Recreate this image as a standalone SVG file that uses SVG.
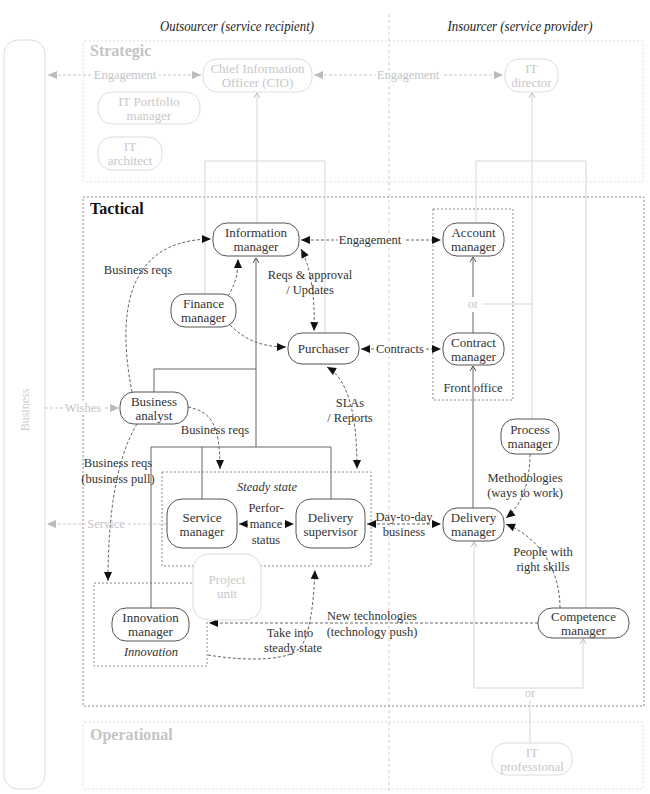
<svg xmlns="http://www.w3.org/2000/svg" width="650" height="794" viewBox="0 0 650 794" font-family="'Liberation Serif', 'Times New Roman', 'DejaVu Serif', serif">
<defs>
<marker id="ah" viewBox="-10 -5 11 10" refX="0" refY="0" markerWidth="11" markerHeight="10" markerUnits="userSpaceOnUse" orient="auto-start-reverse"><path d="M0,0 L-9,-4 L-9,4 z" fill="#111"/></marker>
<marker id="ahl" viewBox="-10 -5 11 10" refX="0" refY="0" markerWidth="11" markerHeight="10" markerUnits="userSpaceOnUse" orient="auto-start-reverse"><path d="M0,0 L-9,-4 L-9,4 z" fill="#bbb"/></marker>
<marker id="ch" viewBox="-6 -4 8 8" refX="0" refY="0" markerWidth="8" markerHeight="8" markerUnits="userSpaceOnUse" orient="auto"><path d="M-5,-3 L0,0 L-5,3" fill="none" stroke="#555" stroke-width="1"/></marker>
<marker id="chl" viewBox="-6 -4 8 8" refX="0" refY="0" markerWidth="8" markerHeight="8" markerUnits="userSpaceOnUse" orient="auto"><path d="M-5,-3 L0,0 L-5,3" fill="none" stroke="#bbb" stroke-width="1"/></marker>
</defs>
<style>
.n rect{fill:#fff;stroke:#555;stroke-width:1;}
.n text{font-size:13px;fill:#333;text-anchor:middle;}
.nl rect{fill:#fff;stroke:#ddd;stroke-width:1;}
.nl text{font-size:13px;fill:#c8c8c8;text-anchor:middle;}
.lbl{font-size:12.5px;fill:#333;text-anchor:middle;}
.lbll{font-size:12.5px;fill:#c4c4c4;text-anchor:middle;}
.halo{stroke:#fff;stroke-width:5px;paint-order:stroke;}
.d{fill:none;stroke:#666;stroke-width:1;stroke-dasharray:3,2;}
.dl{fill:none;stroke:#c8c8c8;stroke-width:1;stroke-dasharray:3,2;}
.t{fill:none;stroke:#666;stroke-width:1;}
.tl{fill:none;stroke:#d5d5d5;stroke-width:1;}
.box{fill:none;stroke:#888;stroke-width:1;stroke-dasharray:2,2;}
.boxl{fill:none;stroke:#ddd;stroke-width:1;stroke-dasharray:2,2;}
.hdr{font-size:15px;font-style:italic;fill:#222;text-anchor:middle;}
</style>
<rect width="650" height="794" fill="#fff"/>

<g id="frame">
<line x1="389" y1="14" x2="389" y2="794" stroke="#ccc" stroke-dasharray="3,3"/>
<text class="hdr" x="237" y="31" textLength="154" lengthAdjust="spacingAndGlyphs">Outsourcer (service recipient)</text>
<text class="hdr" x="520" y="31" textLength="145" lengthAdjust="spacingAndGlyphs">Insourcer (service provider)</text>
<rect x="4" y="40" width="41" height="749" rx="14" fill="none" stroke="#ddd"/>
<text x="0" y="0" transform="translate(29,410) rotate(-90)" font-size="12" fill="#ccc" text-anchor="middle">Business</text>
<rect class="boxl" x="83" y="41" width="560" height="141" rx="2"/>
<text x="90" y="56" font-size="16" font-weight="bold" fill="#c4c4c4">Strategic</text>
<rect class="box" x="83" y="197" width="561" height="509"/>
<text x="90" y="214" font-size="16" font-weight="bold" fill="#111">Tactical</text>
<rect class="boxl" x="83" y="722" width="560" height="67" rx="2"/>
<text x="90" y="740" font-size="16" font-weight="bold" fill="#c4c4c4">Operational</text>
<rect class="box" x="433" y="209" width="80" height="191"/>
<rect class="box" x="162" y="472" width="209" height="94"/>
<text x="267" y="491" font-size="12.5" font-style="italic" fill="#333" text-anchor="middle">Steady state</text>
<rect class="box" x="94" y="583" width="113" height="83"/>
<text x="151" y="656" font-size="12.5" font-style="italic" fill="#333" text-anchor="middle">Innovation</text>
</g>

<g id="connectors">
<path class="tl" d="M257 223 V93" marker-end="url(#chl)"/>
<path class="tl" d="M205 294 V161 H325 V333"/>
<path class="tl" d="M532 419 V93" marker-end="url(#chl)"/>
<path class="tl" d="M476 223 V161 H586 V608"/>
<path class="tl" d="M482 304 H532"/>
<path class="tl" d="M474 688 V542" marker-end="url(#chl)"/>
<path class="tl" d="M474 688 H583 V639" marker-end="url(#chl)"/>
<path class="tl" d="M530 700 V743"/>
<text x="530" y="697" font-size="12" fill="#c4c4c4" text-anchor="middle">or</text>
<text x="473" y="308" font-size="12" fill="#c4c4c4" text-anchor="middle">or</text>
<path class="t" d="M256 447 V258" marker-end="url(#ch)"/>
<path class="t" d="M154 392 V369 H256"/>
<path class="t" d="M151 608 V447 H331 V499"/>
<path class="t" d="M202 447 V499"/>
<path class="t" d="M473 333 V312"/>
<path class="t" d="M473 297 V257" marker-end="url(#ch)"/>
<path class="t" d="M473 508 V366" marker-end="url(#ch)"/>

<path class="dl" d="M48 75 H201" marker-start="url(#ahl)" marker-end="url(#ahl)"/>
<path class="dl" d="M314 75 H503" marker-start="url(#ahl)" marker-end="url(#ahl)"/>
<path class="dl" d="M45 408 H119" marker-end="url(#ahl)"/>
<path class="dl" d="M166 524 H47" marker-end="url(#ahl)"/>
<text class="lbll halo" x="125" y="79">Engagement</text>
<text class="lbll halo" x="408" y="79">Engagement</text>
<text class="lbll halo" x="83" y="412">Wishes</text>
<text class="lbll halo" x="106" y="528">Service</text>

<path class="d" d="M132 392 C118 320 122 240 211 239" marker-end="url(#ah)"/>
<path class="d" d="M228 296 C235 285 238 275 238 259" marker-end="url(#ah)"/>
<path class="d" d="M230 325 C245 340 262 347 286 347" marker-end="url(#ah)"/>
<path class="d" d="M301 240 H441" marker-start="url(#ah)" marker-end="url(#ah)"/>
<path class="d" d="M301 249 C312 270 315 300 314 331" marker-start="url(#ah)" marker-end="url(#ah)"/>
<path class="d" d="M361 349 H441" marker-start="url(#ah)" marker-end="url(#ah)"/>
<path class="d" d="M327 367 C350 380 357 420 357 469" marker-start="url(#ah)" marker-end="url(#ah)"/>
<path class="d" d="M188 407 C212 412 220 425 220 469" marker-end="url(#ah)"/>
<path class="d" d="M137 424 C115 460 108 520 108 581" marker-end="url(#ah)"/>
<path class="d" d="M239 524 H294" marker-start="url(#ah)" marker-end="url(#ah)"/>
<path class="d" d="M367 524 H441" marker-start="url(#ah)" marker-end="url(#ah)"/>
<path class="d" d="M530 454 C530 482 522 505 506 518" marker-end="url(#ah)"/>
<path class="d" d="M560 608 C560 570 540 538 506 524" marker-end="url(#ah)"/>
<path class="d" d="M538 623 H209" marker-end="url(#ah)"/>
<path class="d" d="M208 655 C250 662 290 660 300 648 C310 636 314 600 315 570" marker-end="url(#ah)"/>

<text class="lbl" x="138" y="274">Business reqs</text>
<text class="lbl halo" x="370" y="244">Engagement</text>
<text class="lbl" x="310" y="279">Reqs &amp; approval</text>
<text class="lbl" x="310" y="294">/ Updates</text>
<text class="lbl halo" x="400" y="353">Contracts</text>
<text class="lbl" x="350" y="407">SLAs</text>
<text class="lbl" x="350" y="422">/ Reports</text>
<text class="lbl" x="215" y="434">Business reqs</text>
<text class="lbl" x="118" y="467">Business reqs</text>
<text class="lbl" x="118" y="483">(business pull)</text>
<text class="lbl" x="266" y="512">Perfor-</text>
<text class="lbl halo" x="266" y="528">mance</text>
<text class="lbl" x="266" y="544">status</text>
<text class="lbl" x="404" y="521">Day-to-day</text>
<text class="lbl" x="404" y="536">business</text>
<text class="lbl" x="525" y="482">Methodologies</text>
<text class="lbl" x="525" y="497">(ways to work)</text>
<text class="lbl" x="543" y="556">People with</text>
<text class="lbl" x="543" y="571">right skills</text>
<text class="lbl" x="372" y="620">New technologies</text>
<text class="lbl" x="372" y="636">(technology push)</text>
<text class="lbl" x="290" y="637">Take into</text>
<text class="lbl" x="293" y="652">steady state</text>
<text class="lbl" x="473" y="392">Front office</text>
</g>

<g id="cio" class="nl"><rect x="203" y="59" width="109" height="33" rx="14"/><text x="257.5" y="73">Chief Information</text><text x="257.5" y="87">Officer (CIO)</text></g>
<g id="itdirector" class="nl"><rect x="505" y="59" width="53" height="33" rx="14"/><text x="531.5" y="73">IT</text><text x="531.5" y="87">director</text></g>
<g id="itportfolio" class="nl"><rect x="98" y="92" width="102" height="32" rx="14"/><text x="149" y="106">IT Portfolio</text><text x="149" y="120">manager</text></g>
<g id="itarchitect" class="nl"><rect x="98" y="137" width="64" height="33" rx="14"/><text x="130" y="151">IT</text><text x="130" y="165">architect</text></g>
<g id="infomanager" class="n"><rect x="213" y="223" width="86" height="33" rx="14"/><text x="256" y="237">Information</text><text x="256" y="251">manager</text></g>
<g id="financemanager" class="n"><rect x="171" y="294" width="65" height="33" rx="14"/><text x="203.5" y="308">Finance</text><text x="203.5" y="322">manager</text></g>
<g id="purchaser" class="n"><rect x="288" y="333" width="71" height="31" rx="14"/><text x="323.5" y="353">Purchaser</text></g>
<g id="accountmanager" class="n"><rect x="443" y="223" width="61" height="33" rx="14"/><text x="473.5" y="237">Account</text><text x="473.5" y="251">manager</text></g>
<g id="contractmanager" class="n"><rect x="443" y="333" width="61" height="32" rx="14"/><text x="473.5" y="347">Contract</text><text x="473.5" y="361">manager</text></g>
<g id="businessanalyst" class="n"><rect x="120" y="392" width="68" height="32" rx="14"/><text x="154" y="406">Business</text><text x="154" y="420">analyst</text></g>
<g id="processmanager" class="n"><rect x="501" y="419" width="58" height="35" rx="14"/><text x="530" y="434">Process</text><text x="530" y="448">manager</text></g>
<g id="servicemanager" class="n"><rect x="167" y="499" width="70" height="49" rx="15"/><text x="202" y="522">Service</text><text x="202" y="536">manager</text></g>
<g id="deliverysupervisor" class="n"><rect x="296" y="499" width="69" height="49" rx="15"/><text x="330.5" y="522">Delivery</text><text x="330.5" y="536">supervisor</text></g>
<g id="deliverymanager" class="n"><rect x="443" y="508" width="61" height="33" rx="14"/><text x="473.5" y="522">Delivery</text><text x="473.5" y="536">manager</text></g>
<g id="projectunit" class="nl"><rect x="193" y="554" width="68" height="66" rx="15" fill="none"/><text x="227" y="584">Project</text><text x="227" y="598">unit</text></g>
<g id="innovationmanager" class="n"><rect x="112" y="608" width="77" height="33" rx="14"/><text x="150.5" y="622">Innovation</text><text x="150.5" y="636">manager</text></g>
<g id="competencemanager" class="n"><rect x="538" y="608" width="91" height="30" rx="14"/><text x="583.5" y="621">Competence</text><text x="583.5" y="635">manager</text></g>
<g id="itprofessional" class="nl"><rect x="492" y="743" width="80" height="32" rx="14"/><text x="532" y="757">IT</text><text x="532" y="771">professional</text></g>
</svg>
